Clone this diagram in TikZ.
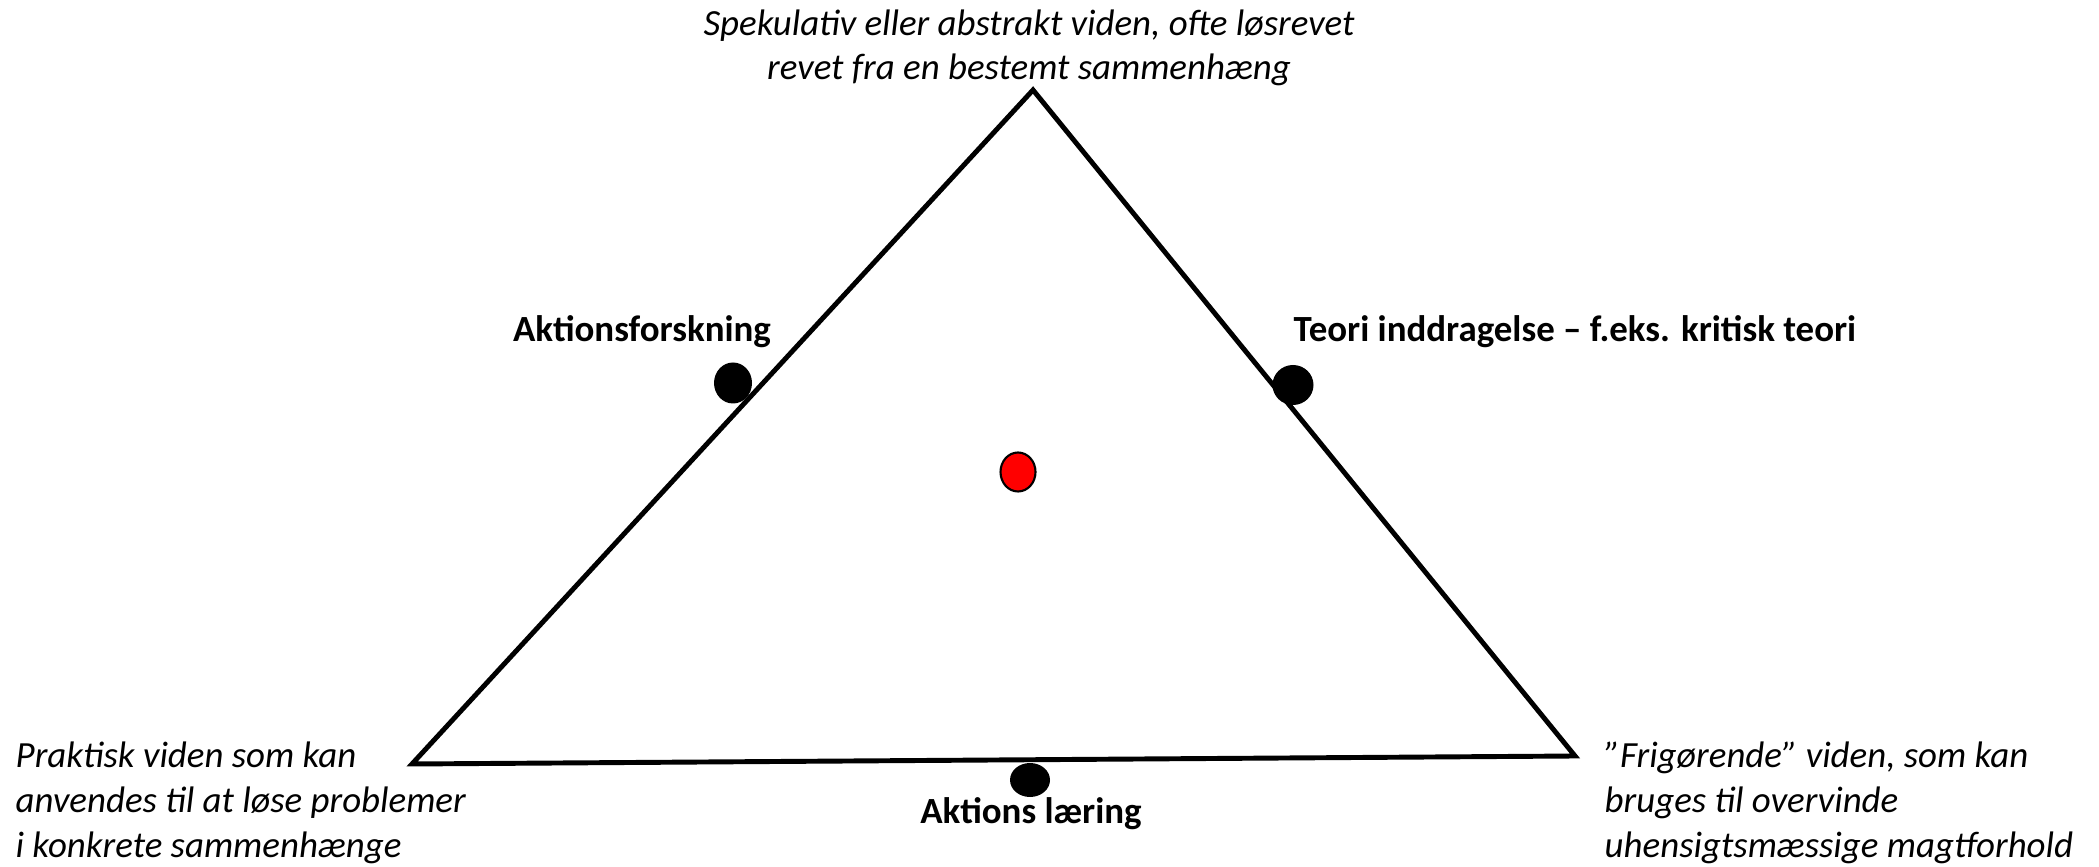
\documentclass[tikz,border=0pt]{standalone}
\usepackage{fontspec}
\setmainfont{Carlito}
\usetikzlibrary{positioning,shapes.geometric}

\tikzset{
  cornertext/.style={font=\fontsize{10.5}{12.6}\selectfont\itshape, inner sep=0pt},
  widelines/.style={font=\fontsize{10.5}{12.8}\selectfont\itshape},
  sidelabel/.style={font=\fontsize{10.5}{12.6}\selectfont\bfseries, inner sep=0pt},
  blackdot/.style={ellipse, fill=black, inner sep=0pt},
  reddot/.style={ellipse, draw=black, line width=0.6pt, fill=red, inner sep=0pt,
    minimum width=0.35cm, minimum height=0.39cm}
}

\begin{document}
\begin{tikzpicture}[x=1cm, y=1cm]

  \useasboundingbox (0,0) rectangle (20.99,8.66);

  % corners of the triangle
  \coordinate (apex) at (10.33,7.76);
  \coordinate (left) at (4.12,1.02);
  \coordinate (right) at (15.75,1.10);

  \draw[line width=1.4pt, line join=miter] (apex) -- (right) -- (left) -- cycle;

  % corner texts
  \node[cornertext, align=center] (theory) at (10.29,8.18)
    {Spekulativ eller abstrakt viden, ofte løsrevet\\revet fra en bestemt sammenhæng};
  \node[cornertext, widelines, align=left, anchor=west] (practice) at (0.15,0.63)
    {Praktisk viden som kan\\anvendes til at løse problemer\\i konkrete sammenhænge};
  \node[cornertext, widelines, align=left, anchor=west] (emancip) at (16.04,0.63)
    {”Frigørende” viden, som kan\\bruges til overvinde\\uhensigtsmæssige magtforhold};

  % dots on the sides
  \node[blackdot, minimum width=0.38cm, minimum height=0.41cm] (dotL) at (7.33,4.83) {};
  \node[blackdot, minimum width=0.41cm, minimum height=0.40cm] (dotR) at (12.93,4.81) {};
  \node[blackdot, minimum width=0.40cm, minimum height=0.34cm] (dotB) at (10.30,0.86) {};
  \node[reddot] (centre) at (10.18,3.94) {};

  % side labels
  \node[sidelabel] (aktfor) at (6.42,5.34) {Aktionsforskning};
  \node[sidelabel, anchor=west] (teori) at (12.93,5.34)
    {Teori inddragelse -- f.eks. kritisk teori};
  \node[sidelabel] (aktlaer) at (10.31,0.52) {Aktions læring};

\end{tikzpicture}
\end{document}
